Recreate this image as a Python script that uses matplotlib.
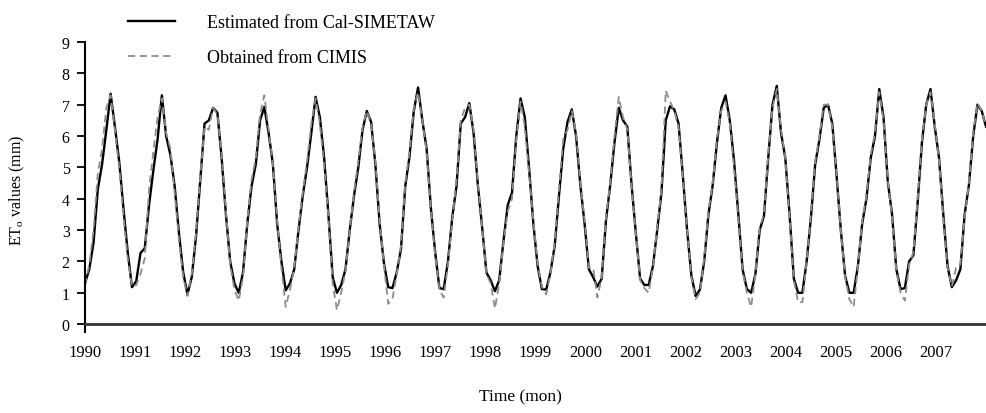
import matplotlib
matplotlib.use('Agg')
import matplotlib.pyplot as plt
import numpy as np

plt.rcParams['font.family'] = ['Liberation Serif', 'DejaVu Serif']
plt.rcParams['mathtext.fontset'] = 'custom'
plt.rcParams['mathtext.rm'] = 'Liberation Serif'

# monthly ETo (mm), Jan 1990 .. Aug 2007
years = list(range(1990, 2008))

cal_simetaw = [
    1.3, 1.75, 2.6, 4.3, 5.1, 6.2, 7.35, 6.3, 5.2, 3.7, 2.3, 1.18,      # 1990
    1.37, 2.27, 2.42, 3.8, 4.9, 5.9, 7.3, 6.0, 5.4, 4.4, 2.9, 1.65,     # 1991
    0.95, 1.5, 2.8, 4.6, 6.4, 6.5, 6.9, 6.75, 5.3, 3.5, 2.0, 1.3,       # 1992
    1.0, 1.65, 3.2, 4.4, 5.1, 6.5, 6.93, 6.1, 5.1, 3.2, 2.0, 1.08,      # 1993
    1.3, 1.75, 3.0, 4.1, 5.0, 6.1, 7.25, 6.6, 5.3, 3.5, 1.5, 1.0,       # 1994
    1.25, 1.75, 3.0, 4.1, 5.0, 6.2, 6.8, 6.45, 5.1, 3.2, 1.95, 1.18,    # 1995
    1.15, 1.65, 2.4, 4.4, 5.35, 6.8, 7.55, 6.5, 5.6, 3.7, 2.3, 1.15,    # 1996
    1.12, 2.0, 3.4, 4.4, 6.4, 6.6, 7.05, 6.1, 4.44, 3.1, 1.65, 1.4,     # 1997
    1.05, 1.4, 2.65, 3.8, 4.2, 6.0, 7.2, 6.6, 4.96, 3.2, 1.85, 1.12,    # 1998
    1.1, 1.65, 2.5, 4.1, 5.6, 6.45, 6.85, 6.0, 4.44, 3.2, 1.75, 1.5,    # 1999
    1.2, 1.45, 3.3, 4.44, 5.8, 6.9, 6.5, 6.3, 4.44, 2.9, 1.45, 1.25,    # 2000
    1.25, 1.85, 3.0, 4.2, 6.5, 6.95, 6.85, 6.4, 4.75, 3.0, 1.55, 0.9,   # 2001
    1.1, 2.0, 3.5, 4.44, 5.8, 6.9, 7.3, 6.5, 5.2, 3.5, 1.75, 1.12,      # 2002
    1.0, 1.6, 3.0, 3.45, 5.3, 7.0, 7.6, 6.1, 5.3, 3.5, 1.45, 1.0,       # 2003
    1.0, 2.0, 3.4, 5.1, 5.9, 6.9, 7.0, 6.4, 4.75, 3.0, 1.55, 1.0,       # 2004
    1.0, 1.85, 3.2, 4.0, 5.3, 6.0, 7.5, 6.6, 4.55, 3.5, 1.75, 1.12,     # 2005
    1.15, 2.0, 2.2, 3.9, 5.8, 7.0, 7.5, 6.3, 5.3, 3.5, 1.85, 1.18,      # 2006
    1.4, 1.75, 3.5, 4.44, 6.0, 7.0, 6.8, 6.3,                           # 2007
]

cimis = [
    1.25, 1.9, 3.0, 4.8, 5.6, 6.9, 7.3, 6.2, 5.0, 3.5, 2.1, 1.2,        # 1990
    1.25, 1.6, 2.1, 4.3, 5.5, 6.6, 7.2, 6.1, 5.6, 4.2, 2.7, 1.5,        # 1991
    0.9, 1.6, 2.9, 4.7, 6.3, 6.2, 6.9, 6.7, 5.4, 3.6, 1.9, 1.1,         # 1992
    0.75, 1.5, 3.3, 4.6, 5.3, 6.7, 7.3, 6.2, 5.1, 3.3, 1.8, 0.55,       # 1993
    1.1, 1.8, 3.1, 4.2, 5.2, 6.4, 7.2, 6.4, 5.1, 3.4, 1.3, 0.45,        # 1994
    1.0, 1.7, 3.0, 4.2, 5.2, 6.3, 6.8, 6.4, 5.2, 3.3, 1.9, 0.65,        # 1995
    0.8, 1.6, 2.5, 4.5, 5.5, 6.9, 7.4, 6.5, 5.5, 3.7, 2.2, 1.1,         # 1996
    0.85, 1.9, 3.3, 4.6, 6.5, 6.9, 7.0, 6.2, 4.5, 3.1, 1.6, 1.3,        # 1997
    0.5, 1.3, 2.6, 3.6, 4.0, 5.9, 7.1, 6.3, 4.8, 3.3, 1.9, 1.2,         # 1998
    0.95, 1.6, 2.6, 4.3, 5.9, 6.2, 6.8, 6.1, 4.5, 3.3, 1.8, 1.8,        # 1999
    0.85, 1.5, 3.4, 4.5, 6.0, 7.25, 6.6, 6.2, 4.4, 2.9, 1.4, 1.15,      # 2000
    1.0, 1.8, 3.1, 4.3, 7.45, 7.1, 6.8, 6.3, 4.7, 3.0, 1.5, 0.8,        # 2001
    1.0, 2.1, 3.6, 4.5, 5.9, 6.8, 7.1, 6.4, 5.0, 3.4, 1.7, 1.0,         # 2002
    0.55, 1.6, 3.1, 3.5, 5.4, 6.9, 7.5, 6.2, 5.3, 3.4, 1.4, 0.7,        # 2003
    0.7, 2.0, 3.5, 5.2, 6.0, 7.0, 7.0, 6.3, 4.8, 3.0, 1.5, 0.8,         # 2004
    0.55, 1.8, 3.3, 4.1, 5.4, 6.1, 7.4, 6.5, 4.6, 3.4, 1.7, 1.0,        # 2005
    0.75, 1.9, 2.3, 4.0, 5.9, 7.0, 7.4, 6.4, 5.2, 3.4, 1.8, 1.2,        # 2006
    1.8, 1.9, 3.4, 4.5, 6.1, 7.05, 6.8, 6.3,                            # 2007
]

n = len(cal_simetaw)
meses = np.arange(n)

fig = plt.figure(figsize=(9.86, 4.14), dpi=100)
ax = fig.add_axes([85 / 986, 81 / 414, 901 / 986, 290 / 414])

l1, = ax.plot(meses, cal_simetaw, color='black', linewidth=1.7)
l2, = ax.plot(meses, cimis, color='#8c8c8c', linewidth=1.3, dashes=(4, 2.5))

ax.set_xlim(0, n - 1)
ax.set_ylim(-0.25, 9)
ax.spines['top'].set_visible(False)
ax.spines['right'].set_visible(False)
ax.spines['bottom'].set_position(('data', 0))
ax.spines['bottom'].set_linewidth(2.0)
ax.spines['bottom'].set_color('#333333')
ax.spines['left'].set_linewidth(1.5)

# year labels are spread evenly across the axis (18 slots)
ax.set_xticks(np.linspace(0, n - 1, len(years) + 1)[:-1])
ax.set_xticklabels([str(a) for a in years])
ax.tick_params(axis='x', length=0, pad=14, labelsize=12)
ax.set_yticks(range(0, 10))
ax.tick_params(axis='y', direction='out', length=6, width=1.3, pad=5, labelsize=11.5)

fig.text(520 / 986, 1 - 397 / 414, 'Time (mon)', ha='center', va='center', fontsize=12.5)
fig.text(17 / 986, 1 - 190 / 414, r'ET$_\mathregular{o}$ values (mm)', rotation=90,
         ha='center', va='center', fontsize=11.5)

fig.legend([l1, l2], ['Estimated from Cal-SIMETAW', 'Obtained from CIMIS'],
           loc='upper left', bbox_to_anchor=(128 / 986, 1 - 15 / 414),
           frameon=False, borderpad=0, borderaxespad=0, fontsize=13,
           handlelength=2.6, handletextpad=1.8, labelspacing=1.0)

fig.savefig('out.png', dpi=100)
